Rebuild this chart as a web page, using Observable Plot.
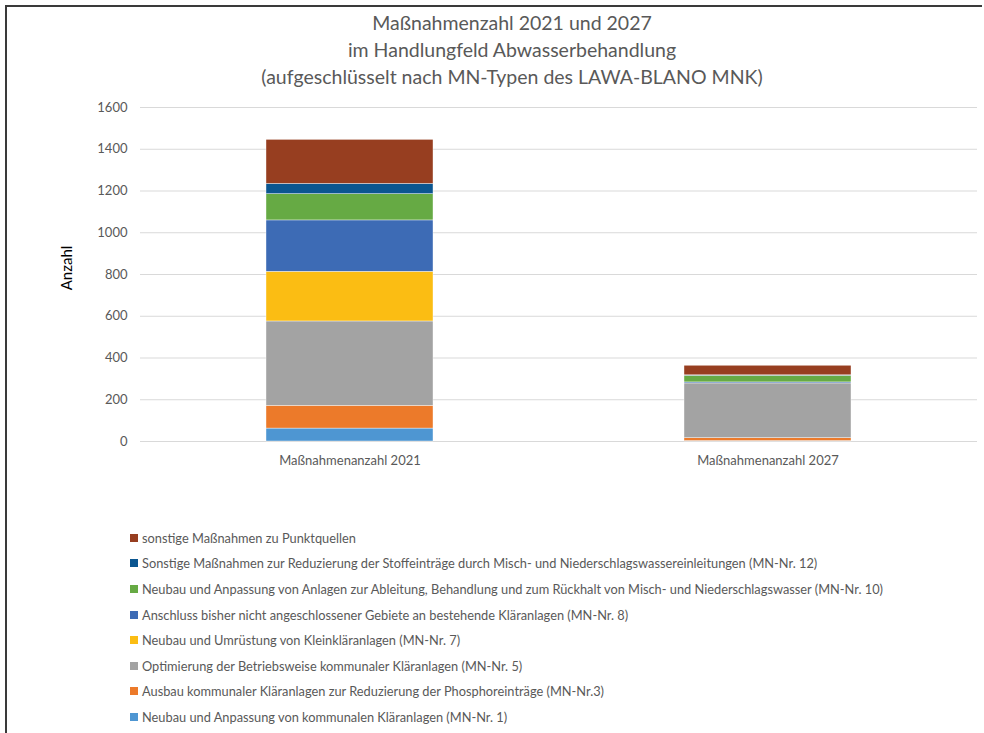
<!DOCTYPE html>
<html>
<head>
<meta charset="utf-8">
<script src="https://cdn.jsdelivr.net/npm/d3@7"></script>
<script src="https://cdn.jsdelivr.net/npm/@observablehq/plot@0.6"></script>
<style>
  html, body { margin: 0; padding: 0; background: #fff; overflow: hidden; }
  body { width: 984px; height: 733px; position: relative; overflow: hidden; font-family: Lato, "Open Sans", sans-serif; }
  #frame { position: absolute; left: 5px; top: 5px; width: 975px; height: 730px; border-left: 2px solid #3a3a3a; border-top: 2px solid #3a3a3a; }
  #title { position: absolute; left: 212px; width: 600px; top: 9px; text-align: center; color: #595959; font-size: 19.5px; line-height: 27px; }
  #ylabel { position: absolute; left: 66px; top: 268px; transform: translate(-50%, -50%) rotate(-90deg); font-size: 15px; color: #000; white-space: nowrap; }
  #chart { position: absolute; left: 0; top: 90px; }
  #legend { position: absolute; left: 130px; top: 525px; font-size: 12.8px; color: #595959; }
  .item { height: 25.6px; display: flex; align-items: center; white-space: nowrap; }
  .sw { width: 8px; height: 8px; margin-right: 4px; flex: none; }
</style>
</head>
<body>
<div id="frame"></div>
<div id="title">Maßnahmenzahl 2021 und 2027<br>im Handlungfeld Abwasserbehandlung<br>(aufgeschlüsselt nach MN-Typen des LAWA-BLANO MNK)</div>
<div id="ylabel">Anzahl</div>
<div id="chart"></div>
<div id="legend"></div>
<script>
const categories = ["Maßnahmenanzahl 2021", "Maßnahmenanzahl 2027"];
const seriesNames = [
  "Neubau und Anpassung von kommunalen Kläranlagen (MN-Nr. 1)",
  "Ausbau kommunaler Kläranlagen zur Reduzierung der Phosphoreinträge (MN-Nr.3)",
  "Optimierung der Betriebsweise kommunaler Kläranlagen (MN-Nr. 5)",
  "Neubau und Umrüstung von Kleinkläranlagen (MN-Nr. 7)",
  "Anschluss bisher nicht angeschlossener Gebiete an bestehende Kläranlagen (MN-Nr. 8)",
  "Neubau und Anpassung von Anlagen zur Ableitung, Behandlung und zum Rückhalt von Misch- und Niederschlagswasser (MN-Nr. 10)",
  "Sonstige Maßnahmen zur Reduzierung der Stoffeinträge durch Misch- und Niederschlagswassereinleitungen (MN-Nr. 12)",
  "sonstige Maßnahmen zu Punktquellen"
];
const seriesColors = ["#4e96d2", "#ec7a2a", "#a3a3a3", "#fbbd13", "#3d6bb5", "#66aa44", "#0b5690", "#973e20"];
const values2021 = [62, 109, 404, 238, 246, 126, 49, 211];
const values2027 = [2, 14, 262, 0, 5, 32, 2, 46];
const yTicks = [0, 200, 400, 600, 800, 1000, 1200, 1400, 1600];

const data = [];
[values2021, values2027].forEach((vals, ci) => {
  vals.forEach((v, si) => data.push({category: categories[ci], series: seriesNames[si], value: v}));
});

const chart = Plot.plot({
  width: 984,
  height: 390,
  marginLeft: 140,
  marginRight: 7,
  marginTop: 17,
  marginBottom: 39,
  style: {fontFamily: "Lato, 'Open Sans', sans-serif", fontSize: "13px", color: "#595959", background: "transparent"},
  x: {domain: categories, paddingInner: 0.6, paddingOuter: 0.3, label: null},
  y: {domain: [0, 1600], label: null},
  color: {domain: seriesNames, range: seriesColors},
  marks: [
    Plot.gridY(yTicks, {stroke: "#d9d9d9", strokeOpacity: 1}),
    Plot.barY(data, {x: "category", y: "value", fill: "series", stroke: "#ffffff", strokeWidth: 0.4, inset: 0}),
    Plot.axisY(yTicks, {tickSize: 0, tickPadding: 13, label: null, fill: "#595959", tickFormat: d => String(d)}),
    Plot.axisX({tickSize: 0, tickPadding: 14, label: null, fill: "#595959"})
  ]
});
document.getElementById("chart").appendChild(chart);

const legend = document.getElementById("legend");
for (let i = seriesNames.length - 1; i >= 0; i--) {
  const it = document.createElement("div");
  it.className = "item";
  const sw = document.createElement("span");
  sw.className = "sw";
  sw.style.background = seriesColors[i];
  const tx = document.createElement("span");
  tx.textContent = seriesNames[i];
  it.appendChild(sw); it.appendChild(tx);
  legend.appendChild(it);
}
</script>
</body>
</html>
